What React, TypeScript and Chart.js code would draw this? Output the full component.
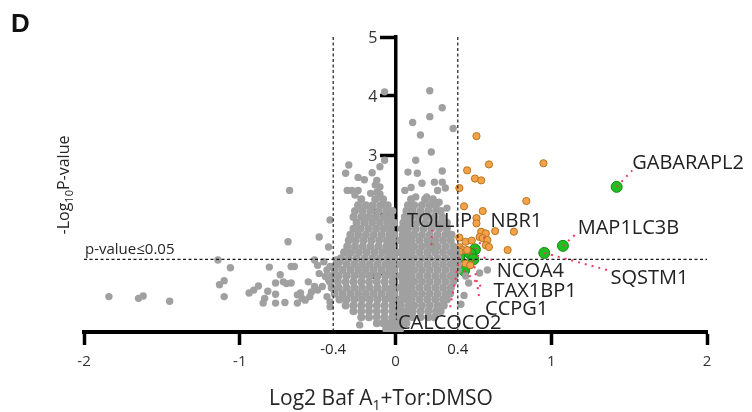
import React, { useEffect, useRef } from "react";
import { Chart, registerables } from "chart.js";

Chart.register(...registerables);

// ---------- axes ----------
const xTickValues = [-2, -1, 0, 1, 2];
const yTickValues = [0, 1, 2, 3, 4, 5];
const yTickLabels = ["", "1", "2", "3", "4", "5"];
const foldCutoffs = [-0.4, 0.4];
const foldCutoffLabels = ["-0.4", "0.4"];
const pValueCutoff = 1.23;
const pValueLabel = "p-value\u22640.05";

// ---------- scattered non-significant proteins (grey) ----------
const grayX = [
  -0.07, 0.22, 0.3, 0.11, 0.22, 0.37, 0.16, 0.23, 0.13, 0.08, 0.14, 0.3, 0.25, 0.3, 0.32, 0.27, 0.17, 0.13, 0.2,
  -0.3, -0.32, -0.1, -0.07, -0.12, -0.13, -0.1, -0.16, -0.12, -0.1, -0.31, -0.28, -0.24, -0.26, -0.68, -0.69, -0.49, -0.42, -0.43,
  -1.14, -1.06, -1.13, -1.1, -1.1, -1.84, -1.65, -1.62, -1.45, -0.81, -0.74, -0.67, -0.65, -0.94, -0.91, -0.88, -0.77, -0.82,
  -0.77, -0.84, -0.85, -0.77, -0.71, -0.72, -0.7, -0.67, -0.63, -0.63, -0.61, -0.6, -0.58, -0.55, -0.54, -0.52, -0.5, -0.47,
  -0.56, -0.52, -0.5, -0.46, -0.44, -0.42, -0.49, -0.45, -0.43, -0.44, -0.42, -0.42, -0.38, -0.36, -0.23,
  0.47, 0.54, 0.59, 0.44, 0.42, 0.45,
  -0.2, -0.24, -0.15, 0.06, 0.1, 0.28, 0.33,
];
const grayY = [
  4.07, 4.09, 3.8, 3.55, 3.65, 3.45, 3.34, 3.05, 2.91, 2.71, 2.69, 2.73, 2.54, 2.54, 2.44, 2.4, 2.52, 2.29, 2.29,
  2.83, 2.69, 2.8, 2.91, 2.57, 2.49, 2.46, 2.35, 2.37, 2.34, 2.4, 2.4, 2.4, 2.32, 2.4, 1.53, 1.61, 1.9, 1.44,
  1.22, 1.09, 0.8, 0.87, 0.6, 0.6, 0.57, 0.61, 0.52, 1.1, 0.97, 1.11, 1.11, 0.66, 0.71, 0.78, 0.83, 0.69,
  0.64, 0.57, 0.49, 0.49, 0.5, 0.85, 0.82, 0.83, 0.63, 0.49, 0.66, 0.57, 0.54, 0.6, 0.68, 0.77, 0.71, 0.77,
  0.85, 1.22, 1.13, 1.19, 1.05, 1.11, 0.99, 0.94, 0.88, 0.6, 0.51, 0.43, 1.22, 1.19, 0.12,
  0.83, 1.0, 1.05, 0.62, 0.47, 0.95,
  2.58, 2.62, 2.7, 2.4, 2.45, 2.2, 2.1,
];

// ---------- dense core of the volcano (grey), row by row ----------
const coreRowY = [
  0.05, 0.15, 0.25, 0.35, 0.45, 0.55, 0.65, 0.75, 0.85, 0.95, 1.05, 1.15, 1.25,
  1.35, 1.45, 1.55, 1.65, 1.75, 1.85, 1.95, 2.05, 2.15, 2.25,
];
const coreRowX = [
  [-0.06, -0.03, 0.0, 0.03],
  [-0.12, -0.08, -0.04, -0.01, 0.03, 0.07],
  [-0.22, -0.17, -0.12, -0.07, -0.02, 0.03, 0.07, 0.11, 0.16, 0.21, 0.25],
  [-0.27, -0.22, -0.17, -0.12, -0.07, -0.02, 0.03, 0.07, 0.11, 0.16, 0.21, 0.26, 0.29],
  [-0.32, -0.27, -0.22, -0.17, -0.12, -0.07, -0.02, 0.035, 0.085, 0.12, 0.17, 0.22, 0.27, 0.31],
  [-0.36, -0.315, -0.265, -0.215, -0.165, -0.115, -0.065, -0.02, 0.03, 0.07, 0.105, 0.155, 0.205, 0.255, 0.305, 0.33],
  [-0.39, -0.34, -0.29, -0.24, -0.19, -0.14, -0.09, -0.04, -0.01, 0.045, 0.085, 0.12, 0.17, 0.22, 0.27, 0.32, 0.35],
  [-0.41, -0.365, -0.315, -0.265, -0.215, -0.165, -0.115, -0.065, -0.02, 0.03, 0.07, 0.105, 0.155, 0.205, 0.255, 0.305, 0.355],
  [-0.42, -0.37, -0.32, -0.27, -0.22, -0.17, -0.12, -0.07, -0.02, 0.045, 0.085, 0.12, 0.17, 0.22, 0.27, 0.32, 0.37],
  [-0.41, -0.365, -0.315, -0.265, -0.215, -0.165, -0.115, -0.065, -0.02, 0.03, 0.07, 0.105, 0.155, 0.205, 0.255, 0.305, 0.355, 0.38],
  [-0.39, -0.34, -0.29, -0.24, -0.19, -0.14, -0.09, -0.04, -0.01, 0.045, 0.085, 0.12, 0.17, 0.22, 0.27, 0.32, 0.37, 0.4],
  [-0.37, -0.315, -0.265, -0.215, -0.165, -0.115, -0.065, -0.02, 0.03, 0.07, 0.105, 0.155, 0.205, 0.255, 0.305, 0.355, 0.4],
  [-0.35, -0.3, -0.25, -0.2, -0.15, -0.1, -0.05, -0.01, 0.045, 0.085, 0.12, 0.17, 0.22, 0.27, 0.32, 0.37, 0.4],
  [-0.33, -0.285, -0.235, -0.185, -0.135, -0.085, -0.04, -0.01, 0.03, 0.07, 0.105, 0.155, 0.205, 0.255, 0.305, 0.355, 0.39],
  [-0.31, -0.26, -0.21, -0.16, -0.11, -0.06, -0.02, 0.045, 0.085, 0.12, 0.17, 0.22, 0.27, 0.32, 0.37],
  [-0.3, -0.255, -0.205, -0.155, -0.105, -0.055, -0.02, 0.03, 0.07, 0.105, 0.155, 0.205, 0.255, 0.305, 0.355],
  [-0.29, -0.24, -0.19, -0.14, -0.09, -0.04, -0.01, 0.045, 0.085, 0.12, 0.17, 0.22, 0.27, 0.32, 0.36],
  [-0.27, -0.225, -0.175, -0.125, -0.075, -0.03, 0.04, 0.08, 0.13, 0.18, 0.23, 0.28, 0.33],
  [-0.25, -0.2, -0.15, -0.1, -0.05, -0.01, 0.05, 0.09, 0.14, 0.19, 0.24, 0.29, 0.33],
  [-0.27, -0.22, -0.175, -0.125, -0.075, -0.03, 0.06, 0.1, 0.15, 0.2, 0.25, 0.3],
  [-0.26, -0.21, -0.16, -0.11, -0.06, -0.02, 0.07, 0.11, 0.16, 0.21, 0.26, 0.29],
  [-0.24, -0.19, -0.145, -0.095, -0.05, 0.08, 0.12, 0.17, 0.22, 0.26],
  [-0.22, -0.13, -0.08, 0.1, 0.19, 0.24],
];

// ---------- significantly enriched proteins (orange) ----------
const orangeX = [
  0.52, 0.6, 0.95, 0.46, 0.51, 0.55, 0.41, 0.84, 0.44, 0.56, 0.52, 0.52, 0.55, 0.58, 0.54, 0.56,
  0.59, 0.58, 0.6, 0.64, 0.76, 0.41, 0.45, 0.49, 0.41, 0.43, 0.46, 0.41, 0.72, 0.45, 0.48,
];
const orangeY = [
  3.32, 2.84, 2.86, 2.74, 2.6, 2.57, 2.44, 2.22, 2.13, 2.05, 1.93, 1.84, 1.7, 1.67, 1.61, 1.59,
  1.56, 1.47, 1.44, 1.71, 1.7, 1.6, 1.53, 1.55, 1.44, 1.39, 1.39, 1.36, 1.39, 1.16, 1.13,
];

// ---------- autophagy receptors (green) ----------
const geneNames = ["GABARAPL2", "MAP1LC3B", "SQSTM1", "NBR1", "TOLLIP", "NCOA4", "TAX1BP1", "CCPG1", "CALCOCO2"];
const geneX = [1.42, 1.075, 0.955, 0.51, 0.23, 0.48, 0.44, 0.5, 0.41];
const geneY = [2.46, 1.46, 1.34, 1.4, 1.47, 1.33, 1.04, 1.23, 1.27];

// label anchors (left edge / vertical centre, in data units) and leader-line ends
const labelAnchorX = [1.52, 1.17, 1.38, 0.61, 0.074, 0.65, 0.63, 0.575, 0.016];
const labelAnchorY = [2.89, 1.79, 0.94, 1.9, 1.9, 1.05, 0.71, 0.41, 0.18];
const leaderEndX = [1.52, 1.17, 1.36, 0.58, 0.235, 0.62, 0.57, 0.54, 0.35];
const leaderEndY = [2.74, 1.69, 1.05, 1.63, 1.73, 1.22, 0.72, 0.54, 0.4];

const FONT = "'Open Sans', 'DejaVu Sans', sans-serif";

const overlayPlugin = {
  id: "volcanoOverlay",
  beforeDatasetsDraw(chart: any) {
    const { ctx, scales } = chart;
    const x = scales.x;
    const y = scales.y;
    const axisPx = x.getPixelForValue(0);
    ctx.save();
    ctx.fillStyle = "#333";
    ctx.font = `16px ${FONT}`;
    ctx.textAlign = "right";
    ctx.textBaseline = "alphabetic";
    yTickValues.forEach((v, i) => {
      ctx.fillText(yTickLabels[i], axisPx - 18, y.getPixelForValue(v) + 5.8);
    });
    ctx.restore();
  },
  afterDatasetDraw(chart: any, args: any) {
    if (args.index !== 0) return;
    const { ctx, scales } = chart;
    const x = scales.x;
    const y = scales.y;
    ctx.save();
    ctx.strokeStyle = "#1a1a1a";
    ctx.lineWidth = 1.2;
    ctx.setLineDash([3, 2.5]);
    for (const v of foldCutoffs) {
      const px = x.getPixelForValue(v);
      ctx.beginPath();
      ctx.moveTo(px, y.getPixelForValue(5));
      ctx.lineTo(px, y.getPixelForValue(0));
      ctx.stroke();
    }
    const py = y.getPixelForValue(pValueCutoff);
    ctx.beginPath();
    ctx.moveTo(x.getPixelForValue(-2), py);
    ctx.lineTo(x.getPixelForValue(2), py);
    ctx.stroke();
    ctx.restore();
  },
  afterDatasetsDraw(chart: any) {
    const { ctx, scales } = chart;
    const x = scales.x;
    const y = scales.y;
    ctx.save();
    ctx.strokeStyle = "#f2385a";
    ctx.lineWidth = 2;
    ctx.setLineDash([2, 5]);
    for (let i = 0; i < geneNames.length; i++) {
      ctx.beginPath();
      ctx.moveTo(x.getPixelForValue(geneX[i]), y.getPixelForValue(geneY[i]));
      ctx.lineTo(x.getPixelForValue(leaderEndX[i]), y.getPixelForValue(leaderEndY[i]));
      ctx.stroke();
    }
    ctx.setLineDash([]);
    const size = 20;
    ctx.font = `${size}px ${FONT}`;
    ctx.fillStyle = "#222";
    ctx.textAlign = "left";
    ctx.textBaseline = "alphabetic";
    for (let i = 0; i < geneNames.length; i++) {
      ctx.fillText(
        geneNames[i],
        x.getPixelForValue(labelAnchorX[i]),
        y.getPixelForValue(labelAnchorY[i]) + size * 0.357
      );
    }
    ctx.restore();
  },
  afterDraw(chart: any) {
    const { ctx, scales, chartArea } = chart;
    const x = scales.x;
    const y = scales.y;
    ctx.save();
    ctx.fillStyle = "#262626";
    ctx.textBaseline = "alphabetic";

    ctx.font = `15px ${FONT}`;
    ctx.textAlign = "center";
    foldCutoffs.forEach((v, i) => {
      ctx.fillText(foldCutoffLabels[i], x.getPixelForValue(v), chartArea.bottom + 21.5);
    });

    ctx.textAlign = "left";
    ctx.font = `15px ${FONT}`;
    ctx.fillText(pValueLabel, x.getPixelForValue(-2) + 1, y.getPixelForValue(pValueCutoff) - 5);

    const xParts: [string, number, number][] = [
      ["Log2 Baf A", 21, 0],
      ["1", 14, 5],
      ["+Tor:DMSO", 21, 0],
    ];
    let total = 0;
    for (const [t, s] of xParts) {
      ctx.font = `${s}px ${FONT}`;
      total += ctx.measureText(t).width;
    }
    let cx = 381 - total / 2;
    for (const [t, s, dy] of xParts) {
      ctx.font = `${s}px ${FONT}`;
      ctx.fillText(t, cx, 405 + dy);
      cx += ctx.measureText(t).width;
    }

    const yParts: [string, number, number][] = [
      ["-Log", 16, 0],
      ["10", 11, 4],
      ["P-value", 16, 0],
    ];
    ctx.translate(63, (chartArea.top + chartArea.bottom) / 2 + 0.5);
    ctx.rotate(-Math.PI / 2);
    total = 0;
    for (const [t, s] of yParts) {
      ctx.font = `${s}px ${FONT}`;
      total += ctx.measureText(t).width;
    }
    cx = -total / 2;
    for (const [t, s, dy] of yParts) {
      ctx.font = `${s}px ${FONT}`;
      ctx.fillText(t, cx, 5.7 + dy);
      cx += ctx.measureText(t).width;
    }
    ctx.restore();

    ctx.save();
    ctx.fillStyle = "#111";
    ctx.font = `bold 26px 'Liberation Sans', Arial, sans-serif`;
    ctx.textAlign = "left";
    ctx.textBaseline = "alphabetic";
    ctx.fillText("D", 11, 32);
    ctx.restore();
  },
};

export default function App() {
  const canvasRef = useRef<HTMLCanvasElement | null>(null);

  useEffect(() => {
    if (!canvasRef.current) return;

    const corePoints: { x: number; y: number }[] = [];
    coreRowY.forEach((yy, r) => {
      coreRowX[r].forEach((xx) => corePoints.push({ x: xx, y: yy }));
    });
    const grayPoints = grayX.map((xx, i) => ({ x: xx, y: grayY[i] }));
    const orangePoints = orangeX.map((xx, i) => ({ x: xx, y: orangeY[i] }));
    const greenPoints = geneX.map((xx, i) => ({ x: xx, y: geneY[i] }));

    const chart = new Chart(canvasRef.current, {
      type: "scatter",
      data: {
        datasets: [
          {
            data: corePoints.concat(grayPoints),
            pointRadius: corePoints.map(() => 4.0).concat(grayPoints.map(() => 3.7)),
            pointBackgroundColor: "#a0a0a0",
            pointBorderColor: "#a0a0a0",
            pointBorderWidth: 0,
          },
          {
            data: orangePoints,
            pointRadius: 3.6,
            pointBackgroundColor: "#f3a24a",
            pointBorderColor: "#b8741f",
            pointBorderWidth: 1,
          },
          {
            data: greenPoints,
            pointRadius: 5.5,
            pointBackgroundColor: "#1fbf1f",
            pointBorderColor: "#138a13",
            pointBorderWidth: 1,
          },
        ],
      },
      options: {
        responsive: false,
        animation: false,
        devicePixelRatio: 1,
        layout: { padding: { left: 84, right: 45, top: 37, bottom: 0 } },
        plugins: { legend: { display: false }, tooltip: { enabled: false } },
        scales: {
          x: {
            type: "linear",
            position: "bottom",
            min: -2,
            max: 2,
            afterBuildTicks: (scale: any) => {
              scale.ticks = xTickValues.map((v) => ({ value: v }));
            },
            afterFit: (scale: any) => {
              scale.height = 80;
            },
            border: { display: true, color: "#000", width: 4 },
            grid: {
              drawOnChartArea: false,
              drawTicks: true,
              tickLength: 13,
              tickWidth: 3.5,
              tickColor: "#000",
            },
            ticks: {
              padding: 8,
              color: "#333",
              font: { family: FONT, size: 15 },
              callback: (v: any) => String(v),
            },
          },
          y: {
            type: "linear",
            position: { x: 0 } as any,
            min: 0,
            max: 5,
            afterBuildTicks: (scale: any) => {
              scale.ticks = yTickValues.map((v) => ({ value: v }));
            },
            border: { display: true, color: "#000", width: 3.5 },
            grid: {
              drawOnChartArea: false,
              drawTicks: true,
              tickLength: 14,
              tickWidth: 3.5,
              tickColor: (c: any) => (c.tick && c.tick.value === 0 ? "rgba(0,0,0,0)" : "#000"),
            },
            ticks: { display: false },
          },
        },
      },
      plugins: [overlayPlugin],
    });

    return () => chart.destroy();
  }, []);

  return (
    <div style={{ position: "fixed", left: 0, top: 0, width: 752, height: 412, background: "#fff" }}>
      <canvas ref={canvasRef} width={752} height={412} style={{ display: "block" }} />
    </div>
  );
}
